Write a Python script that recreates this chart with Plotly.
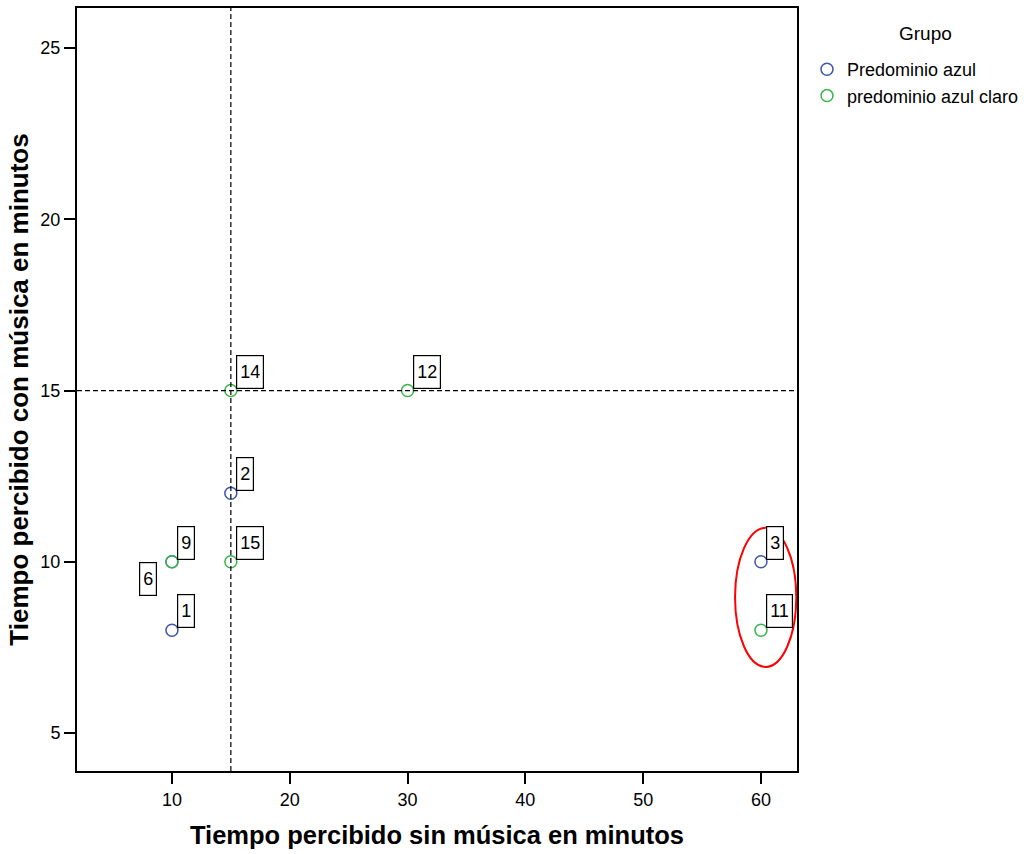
import plotly.graph_objects as go

# Data
blue_ids = ["6", "1", "2", "3"]
blue_x = [10, 10, 15, 60]
blue_y = [10, 8, 12, 10]

green_ids = ["9", "15", "14", "12", "11"]
green_x = [10, 15, 15, 30, 60]
green_y = [10, 10, 15, 15, 8]

ref_x = 15
ref_y = 15

x_ticks = [10, 20, 30, 40, 50, 60]
y_ticks = [5, 10, 15, 20, 25]

BLUE = "#3e56ab"
GREEN = "#3ab54a"
FONT = "Liberation Sans, Arial, sans-serif"

fig = go.Figure()
fig.add_trace(go.Scatter(
    x=blue_x, y=blue_y, mode="markers", name="Predominio azul",
    marker=dict(symbol="circle-open", size=12, color=BLUE, line=dict(width=1.5, color=BLUE)),
))
fig.add_trace(go.Scatter(
    x=green_x, y=green_y, mode="markers", name="predominio azul claro",
    marker=dict(symbol="circle-open", size=12, color=GREEN, line=dict(width=1.5, color=GREEN)),
))

annotations = []
all_pts = list(zip(blue_ids, blue_x, blue_y)) + list(zip(green_ids, green_x, green_y))
for lab, x, y in all_pts:
    common = dict(x=x, y=y, xref="x", yref="y", text=lab, showarrow=False,
                  font=dict(family=FONT, size=18, color="black"),
                  bordercolor="black", borderwidth=1.2, borderpad=3,
                  bgcolor="white", height=26)
    if lab == "6":
        annotations.append(dict(xanchor="right", yanchor="top", xshift=-15, yshift=0, **common))
    else:
        annotations.append(dict(xanchor="left", yanchor="bottom", xshift=5, yshift=2, **common))

# legend title as text
annotations.append(dict(x=(925 - 77) / 720, y=1 - (34 - 8) / 763, xref="paper", yref="paper",
                        text="Grupo", showarrow=False, xanchor="center", yanchor="middle",
                        font=dict(family=FONT, size=19, color="black")))

shapes = [
    dict(type="line", xref="x", yref="paper", x0=ref_x, x1=ref_x, y0=0, y1=1,
         line=dict(color="black", width=1.2, dash="5px,3px")),
    dict(type="line", xref="paper", yref="y", x0=0, x1=1, y0=ref_y, y1=ref_y,
         line=dict(color="black", width=1.2, dash="5px,3px")),
    dict(type="circle", xref="x", yref="y", x0=57.8, x1=63.0, y0=6.93, y1=10.99,
         line=dict(color="red", width=2)),
]

fig.update_layout(
    width=1030, height=854,
    margin=dict(l=77, r=233, t=8, b=83, autoexpand=False),
    plot_bgcolor="white", paper_bgcolor="white",
    font=dict(family=FONT, color="black"),
    showlegend=True,
    legend=dict(x=(807 - 77) / 720, y=1 - (51 - 8) / 763, xanchor="left", yanchor="top",
                font=dict(size=18, family=FONT), itemwidth=30, tracegroupgap=0,
                bgcolor="rgba(0,0,0,0)"),
    annotations=annotations,
    shapes=shapes,
    xaxis=dict(range=[1.94, 63.06], tickvals=x_ticks, ticks="outside", ticklen=11,
               tickwidth=2, tickcolor="black", showline=True, linecolor="black",
               linewidth=2, mirror=True, showgrid=False, zeroline=False,
               tickfont=dict(size=18, family=FONT),
               title=dict(text="<b>Tiempo percibido sin música en minutos</b>",
                          font=dict(size=25.5, family=FONT), standoff=18)),
    yaxis=dict(range=[3.89, 26.17], tickvals=y_ticks, ticks="outside", ticklen=11,
               tickwidth=2, tickcolor="black", showline=True, linecolor="black",
               linewidth=2, mirror=True, showgrid=False, zeroline=False,
               tickfont=dict(size=18, family=FONT),
               title=dict(text="<b>Tiempo percibido con música en minutos</b>",
                          font=dict(size=26, family=FONT), standoff=4)),
)

fig.write_html("out.html", config={"displayModeBar": False},
               post_script="document.body.style.margin='0';")
